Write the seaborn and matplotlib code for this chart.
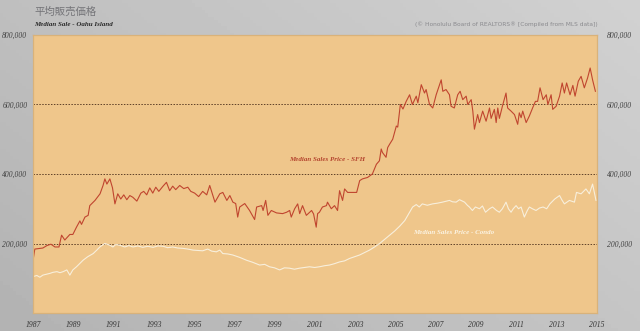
import numpy as np
import pandas as pd
import matplotlib
matplotlib.use("Agg")
import matplotlib.pyplot as plt
import seaborn as sns

# ---- data ----
sfh_year = [1987.00, 1987.07, 1987.47, 1987.67, 1987.87, 1988.07, 1988.27, 1988.40, 1988.56, 1988.81,
            1988.96, 1989.14, 1989.31, 1989.39, 1989.56, 1989.72, 1989.80, 1990.06, 1990.31, 1990.46,
            1990.55, 1990.65, 1990.80, 1990.93, 1991.05, 1991.19, 1991.34, 1991.49, 1991.64, 1991.79,
            1991.94, 1992.14, 1992.34, 1992.48, 1992.63, 1992.78, 1992.93, 1993.08, 1993.23, 1993.44,
            1993.61, 1993.77, 1993.92, 1994.07, 1994.27, 1994.47, 1994.67, 1994.82, 1995.01, 1995.21,
            1995.41, 1995.61, 1995.76, 1996.02, 1996.26, 1996.41, 1996.61, 1996.76, 1996.91, 1997.05,
            1997.15, 1997.25, 1997.50, 1997.74, 1997.99, 1998.09, 1998.34, 1998.41, 1998.54, 1998.65,
            1998.82, 1999.08, 1999.38, 1999.58, 1999.73, 1999.81, 1999.98, 2000.13, 2000.23, 2000.37,
            2000.56, 2000.82, 2000.92, 2001.05, 2001.12, 2001.21, 2001.36, 2001.56, 2001.61, 2001.80,
            2001.96, 2002.11, 2002.21, 2002.36, 2002.46, 2002.61, 2002.86, 2003.06, 2003.21, 2003.35,
            2003.60, 2003.84, 2004.04, 2004.19, 2004.28, 2004.34, 2004.52, 2004.60, 2004.70, 2004.85,
            2005.03, 2005.10, 2005.23, 2005.36, 2005.52, 2005.69, 2005.77, 2005.83, 2006.02, 2006.10,
            2006.27, 2006.43, 2006.51, 2006.68, 2006.84, 2007.01, 2007.26, 2007.34, 2007.50, 2007.67,
            2007.75, 2007.91, 2008.08, 2008.20, 2008.33, 2008.50, 2008.58, 2008.75, 2008.83, 2008.91,
            2009.07, 2009.16, 2009.32, 2009.49, 2009.66, 2009.74, 2009.90, 2009.99, 2010.07, 2010.15,
            2010.30, 2010.48, 2010.56, 2010.73, 2010.90, 2011.06, 2011.14, 2011.23, 2011.31, 2011.48,
            2011.64, 2011.80, 2011.94, 2012.05, 2012.17, 2012.32, 2012.48, 2012.56, 2012.72, 2012.80,
            2012.97, 2013.14, 2013.27, 2013.38, 2013.49, 2013.66, 2013.80, 2013.91, 2014.07, 2014.21,
            2014.37, 2014.53, 2014.66, 2014.78, 2014.92]
sfh_price = [158, 184, 187, 194, 198, 190, 190, 224, 210, 226,
             226, 247, 265, 255, 276, 281, 309, 324, 343, 367,
             386, 371, 386, 360, 314, 343, 328, 340, 326, 338,
             333, 322, 345, 350, 340, 360, 345, 362, 350, 365,
             376, 352, 365, 355, 367, 358, 362, 350, 345, 335,
             350, 340, 367, 319, 343, 347, 324, 338, 319, 315,
             276, 305, 315, 295, 269, 305, 309, 295, 324, 281,
             295, 288, 286, 290, 295, 276, 300, 314, 286, 309,
             281, 295, 285, 247, 286, 290, 305, 309, 319, 300,
             309, 295, 352, 324, 357, 347, 347, 347, 381, 386,
             390, 400, 428, 438, 472, 462, 448, 476, 486, 500,
             538, 535, 600, 587, 609, 628, 612, 600, 624, 605,
             657, 633, 643, 600, 590, 628, 671, 638, 643, 628,
             595, 590, 628, 638, 614, 624, 600, 614, 581, 529,
             571, 548, 581, 552, 590, 560, 586, 548, 590, 560,
             595, 633, 590, 581, 571, 543, 576, 562, 581, 548,
             567, 590, 609, 609, 648, 614, 628, 600, 628, 586,
             595, 624, 662, 633, 662, 628, 655, 624, 667, 681,
             648, 676, 705, 671, 638]

condo_year = [1987.00, 1987.17, 1987.32, 1987.47, 1987.67, 1987.82, 1987.97, 1988.17, 1988.32, 1988.48,
              1988.66, 1988.81, 1988.96, 1989.14, 1989.31, 1989.47, 1989.70, 1989.97, 1990.15, 1990.30,
              1990.55, 1990.80, 1990.95, 1991.09, 1991.29, 1991.54, 1991.74, 1991.95, 1992.19, 1992.43,
              1992.68, 1992.95, 1993.18, 1993.44, 1993.67, 1993.92, 1994.17, 1994.43, 1994.67, 1994.93,
              1995.16, 1995.41, 1995.66, 1995.86, 1996.09, 1996.26, 1996.41, 1996.65, 1996.90, 1997.25,
              1997.58, 1997.89, 1998.24, 1998.49, 1998.73, 1998.98, 1999.23, 1999.47, 1999.72, 1999.97,
              2000.22, 2000.47, 2000.72, 2000.97, 2001.21, 2001.46, 2001.71, 2001.96, 2002.21, 2002.46,
              2002.71, 2002.96, 2003.21, 2003.46, 2003.70, 2003.95, 2004.20, 2004.45, 2004.70, 2004.95,
              2005.20, 2005.45, 2005.69, 2005.84, 2006.02, 2006.17, 2006.32, 2006.57, 2006.83, 2007.07,
              2007.32, 2007.52, 2007.67, 2007.82, 2008.00, 2008.17, 2008.42, 2008.56, 2008.66, 2008.81,
              2008.96, 2009.16, 2009.31, 2009.46, 2009.66, 2009.81, 2010.01, 2010.15, 2010.30, 2010.48,
              2010.60, 2010.73, 2010.84, 2010.98, 2011.10, 2011.23, 2011.39, 2011.54, 2011.64, 2011.79,
              2011.97, 2012.14, 2012.32, 2012.50, 2012.66, 2012.90, 2013.14, 2013.26, 2013.38, 2013.63,
              2013.88, 2013.98, 2014.21, 2014.45, 2014.62, 2014.78, 2014.95]
condo_price = [105, 108, 103, 109, 112, 114, 117, 119, 116, 119,
               124, 109, 124, 133, 143, 152, 162, 171, 181, 190,
               200, 195, 190, 197, 195, 190, 194, 190, 193, 189,
               192, 189, 193, 192, 188, 190, 187, 186, 184, 181,
               180, 179, 184, 178, 176, 181, 171, 170, 167, 160,
               152, 146, 138, 140, 133, 130, 124, 130, 129, 126,
               129, 131, 133, 131, 133, 136, 138, 142, 147, 150,
               157, 162, 167, 174, 181, 190, 200, 212, 224, 236,
               250, 266, 290, 305, 312, 305, 314, 310, 314, 316,
               319, 322, 324, 320, 319, 326, 319, 310, 305, 295,
               305, 300, 308, 290, 300, 305, 295, 290, 300, 319,
               300, 290, 300, 309, 300, 305, 276, 295, 305, 300,
               295, 302, 305, 300, 314, 328, 338, 325, 314, 324,
               319, 347, 343, 357, 343, 371, 324]

y_ticks = [200000, 400000, 600000, 800000]
y_tick_labels = ["200,000", "400,000", "600,000", "800,000"]
x_ticks = list(range(1987, 2016, 2))

title_jp = "平均販売価格"
subtitle = "Median Sale - Oahu Island"
source = "(© Honolulu Board of REALTORS® [Compiled from MLS data])"
label_sfh = "Median Sales Price - SFH"
label_condo = "Median Sales Price - Condo"

df = pd.concat([
    pd.DataFrame({"year": sfh_year, "price": np.array(sfh_price) * 1000, "type": "SFH"}),
    pd.DataFrame({"year": condo_year, "price": np.array(condo_price) * 1000, "type": "Condo"}),
])

# ---- figure ----
fig = plt.figure(figsize=(6.4, 3.31), dpi=100)

# gray gradient background
bg = fig.add_axes([0, 0, 1, 1], zorder=-10)
gx = np.linspace(0, 1, 200)
gy = np.linspace(0, 1, 100)
GX, GY = np.meshgrid(gx, gy)
grad = 0.70 + 0.12 * (0.6 * GX + 0.4 * (1 - GY))
bg.imshow(grad, cmap="gray", vmin=0, vmax=1, aspect="auto", extent=[0, 1, 0, 1])
bg.set_axis_off()

ax = fig.add_axes([33 / 640, 1 - 313 / 331, (597 - 33) / 640, (313 - 35) / 331])
ax.set_facecolor("#efc68b")

palette = {"SFH": "#c0452f", "Condo": "#f8efdc"}
sns.lineplot(data=df, x="year", y="price", hue="type", palette=palette,
             ax=ax, legend=False, linewidth=0.8, estimator=None, sort=False)

ax.set_xlim(1986.98, 2015.0)
ax.set_ylim(0, 800000)
ax.set_xlabel("")
ax.set_ylabel("")

for v in [200000, 400000, 600000]:
    ax.axhline(v, color="#5e4028", lw=0.7, ls=(0, (1.5, 1.5)), zorder=0.5)

serif = "Liberation Serif"
ax.set_xticks(x_ticks)
ax.set_xticklabels([str(t) for t in x_ticks], fontsize=5.5, fontstyle="italic",
                   family=serif, color="#333333")
ax.set_yticks(y_ticks)
ax.set_yticklabels(y_tick_labels, fontsize=5.5, fontstyle="italic", family=serif, color="#444444")
ax.tick_params(axis="both", length=0, pad=4)
ax.tick_params(axis="x", pad=6)

ax2 = ax.twinx()
ax2.set_ylim(0, 800000)
ax2.set_yticks(y_ticks)
ax2.set_yticklabels(y_tick_labels, fontsize=5.5, fontstyle="italic", family=serif, color="#444444")
ax2.tick_params(axis="y", length=0, pad=7)

for a in (ax, ax2):
    for s in a.spines.values():
        s.set_color("#d9b27a")
        s.set_linewidth(0.8)

ax.text(2001.6, 441000, label_sfh, fontsize=5, fontstyle="italic", fontweight="bold",
        family=serif, color="#b5462f", ha="center", va="center")
ax.text(2007.9, 232000, label_condo, fontsize=5, fontstyle="italic", fontweight="bold",
        family=serif, color="#fbf3e2", ha="center", va="center")

fig.text(34 / 640, 1 - 12 / 331, title_jp, fontsize=7.5, color="#747478",
         family=["Noto Sans CJK JP", "DejaVu Sans"], ha="left", va="center")
fig.text(34 / 640, 1 - 24 / 331, subtitle, fontsize=5, fontstyle="italic", fontweight="bold",
         family=serif, color="#2a2a2a", ha="left", va="center")
fig.text(598 / 640, 1 - 24 / 331, source, fontsize=4.2, color="#8a8a8e",
         family="DejaVu Sans", ha="right", va="center")

fig.savefig("out.png", dpi=100, facecolor="#bdbdc0")
